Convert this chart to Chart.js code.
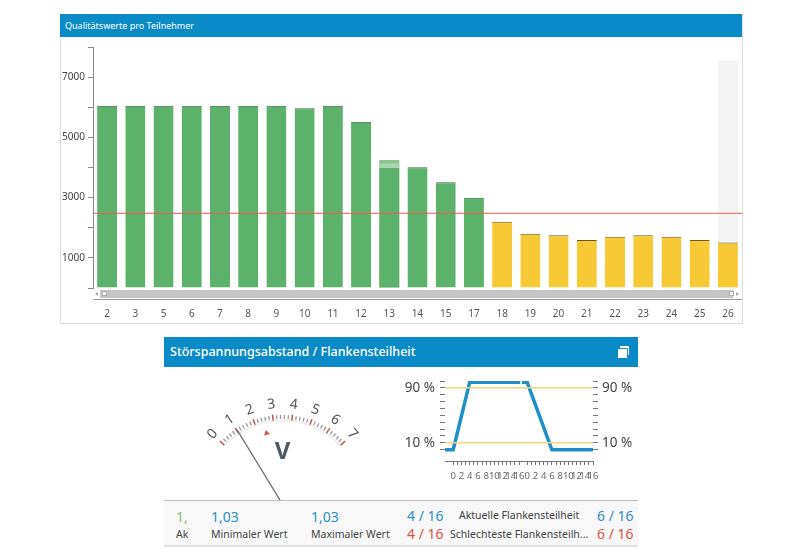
<!DOCTYPE html>
<html>
<head>
<meta charset="utf-8">
<title>Qualitätswerte</title>
<script src="https://cdn.jsdelivr.net/npm/chart.js@4"></script>
<style>
  body { margin: 0; background: #fff; font-family: "Noto Sans", sans-serif; color: #444; }
  #page { position: relative; width: 800px; height: 560px; overflow: hidden; }
  #page div, #page canvas, #page span { position: absolute; }
  .head { background: #0a8bc7; color: #fff; white-space: nowrap; }
  .val { font-size: 14px; line-height: 18px; white-space: nowrap; }
  .lab { font-size: 10.5px; line-height: 14px; white-space: nowrap; color: #444; }
  .blue { color: #2b8fc9; }
  .red { color: #d9534a; }
</style>
</head>
<body>
<div id="page">
  <div style="left:60px;top:14px;width:681px;height:309px;border:1px solid #dcdcdc;border-top:0"></div>
  <div class="head" style="left:60px;top:14px;width:677px;height:23px;padding-left:5px;font-size:9px;line-height:24px">Qualitätswerte pro Teilnehmer</div>
  <canvas id="qualityChart" width="682" height="287" style="left:60px;top:37px"></canvas>
  <div style="left:100px;top:290px;width:633px;height:8px;background:#c6c6c6"></div>
  <div style="left:102px;top:291px;width:5px;height:5px;background:#fff;border:1px solid #aaa;box-sizing:border-box"></div>
  <div style="left:729px;top:291px;width:5px;height:5px;background:#fff;border:1px solid #aaa;box-sizing:border-box"></div>
  <div style="left:95px;top:292px;border:2px solid transparent;border-right:3px solid #aaa;border-left:0"></div>
  <div style="left:736px;top:292px;border:2px solid transparent;border-left:3px solid #aaa;border-right:0"></div>
  <div style="left:93px;top:299px;width:649px;height:1px;background:#999"></div>

  <div class="head" style="left:164px;top:337px;width:468px;height:30px;padding-left:6px;font-size:12.5px;font-weight:500;line-height:30px">Störspannungsabstand / Flankensteilheit</div>
  <div style="left:620px;top:346px;width:9px;height:9px;background:#fff;border-radius:1px"></div>
  <div style="left:617px;top:348px;width:9px;height:9px;background:#fff;border-radius:1px;border:1px solid #0a8bc7;box-sizing:content-box"></div>
  <canvas id="dialChart" width="236" height="133" style="left:164px;top:367px"></canvas>
  <canvas id="edgeChart" width="238" height="110" style="left:400px;top:375px"></canvas>

  <div style="left:164px;top:500px;width:474px;height:44px;background:#f8f8f8;border-top:1px solid #bdbdbd;border-bottom:2px solid #e0e0e0"></div>
  <div class="val" style="left:176px;top:508px;width:11px;overflow:hidden;color:#8dbb6a">1,03</div>
  <div class="lab" style="left:176px;top:527px;width:12px;overflow:hidden">Aktueller Wert</div>
  <div class="val blue" style="left:211px;top:508px">1,03</div>
  <div class="lab" style="left:211px;top:527px">Minimaler Wert</div>
  <div class="val blue" style="left:311px;top:508px">1,03</div>
  <div class="lab" style="left:311px;top:527px">Maximaler Wert</div>
  <div class="val blue" style="left:407px;top:507px">4 / 16</div>
  <div class="val red" style="left:407px;top:525px">4 / 16</div>
  <div class="lab" style="left:459px;top:508px">Aktuelle Flankensteilheit</div>
  <div class="lab" style="left:450px;top:527px">Schlechteste Flankensteilh...</div>
  <div class="val blue" style="left:597px;top:507px">6 / 16</div>
  <div class="val red" style="left:597px;top:525px">6 / 16</div>
</div>

<script>
const FONT = '"Noto Sans", sans-serif';

// Qualitaetswerte
const participants = ["2","3","5","6","7","8","9","10","11","12","13","14","15","17","18","19","20","21","22","23","24","25","26"];
const qualityValues = [6050,6050,6050,6050,6050,6050,6050,5970,6050,5520,3980,4010,3510,3000,2200,1800,1750,1590,1700,1750,1700,1590,1510];
const peakOuter = [null,null,null,null,null,null,null,null,null,null,4250,null,null,null,null,null,null,null,null,null,null,null,null];
const peakInner = [null,null,null,null,null,null,null,null,null,null,4130,null,null,null,null,null,null,null,null,null,null,null,null];
const hoverBand = [null,null,null,null,null,null,null,null,null,null,null,null,null,null,null,null,null,null,null,null,null,null,7550];
const thresholdX = [0, 1];
const thresholdY = [2480, 2480];
const qualityTop = 8000;

const barColors = qualityValues.map(v => v > 2480 ? "#5cb26a" : "#f7ca35");
const capColors = qualityValues.map((v, i) => peakOuter[i] ? "#5cb26a" : (v > 2480 ? "#3e5c48" : "#6b5a2c"));

function bar(data, color, order, extra) {
  return Object.assign({
    type: "bar", data: data, backgroundColor: color, order: order,
    grouped: false, barPercentage: 0.71, categoryPercentage: 1, xAxisID: "x", yAxisID: "y"
  }, extra);
}

new Chart("qualityChart", {
  data: {
    labels: participants,
    datasets: [
      bar(hoverBand, "#f4f4f4", 5),
      bar(peakOuter, "#88c590", 4),
      bar(peakInner, "#a9d6ae", 3),
      bar(qualityValues, barColors, 2, { borderColor: capColors, borderWidth: { top: 1, left: 0, right: 0, bottom: 0 } }),
      { type: "line", data: thresholdY.map((y, i) => ({ x: thresholdX[i], y: y })), borderColor: "#ee5a50", borderWidth: 1,
        pointRadius: 0, order: 1, xAxisID: "xLine", yAxisID: "y" }
    ]
  },
  options: {
    responsive: false,
    animation: false,
    layout: { padding: { top: 10, right: 0, left: 0, bottom: 0 } },
    plugins: { legend: { display: false }, tooltip: { enabled: false } },
    scales: {
      x: {
        offset: true,
        border: { display: false },
        grid: { display: false, drawTicks: false },
        ticks: { color: "#555", font: { family: FONT, size: 10 }, padding: 20, maxRotation: 0, autoSkip: false },
        // the big tick padding would otherwise shrink the plot on the right
        afterFit: s => { s.height = 36; s.paddingLeft = 0; s.paddingRight = 0; }
      },
      xLine: { type: "linear", display: false, min: 0, max: 1 },
      y: {
        min: 0, max: qualityTop,
        border: { color: "#888" },
        grid: { drawOnChartArea: false, color: "#888", tickLength: 5 },
        ticks: {
          stepSize: 1000, padding: 3, color: "#444", font: { family: FONT, size: 10 },
          callback: v => (v / 1000) % 2 === 1 ? String(v) : ""
        },
        afterFit: s => { s.width = 33; }
      }
    }
  }
});

// Zeigerinstrument
const dialLabels = ["0","1","2","3","4","5","6","7"];
const dialValue = 1.03;
const dialMarker = 2.5;
const dialStepsPerUnit = 5;

const dialPlugin = {
  id: "dial",
  afterDraw(chart) {
    const c = chart.ctx, sx = chart.scales.x, cx = 118.5, cy = 133;
    const ang = v => (-46.7 + 93.4 * (sx.getPixelForValue(v) - sx.left) / sx.width) * Math.PI / 180;
    const spoke = (v, r1, r2, color, w) => {
      const a = ang(v);
      c.beginPath();
      c.moveTo(cx + r1 * Math.sin(a), cy - r1 * Math.cos(a));
      c.lineTo(cx + r2 * Math.sin(a), cy - r2 * Math.cos(a));
      c.strokeStyle = color; c.lineWidth = w; c.stroke();
    };
    c.save();
    c.beginPath();
    c.arc(cx, cy, 79.5, ang(0) - Math.PI / 2, ang(7) - Math.PI / 2);
    c.strokeStyle = "#ececec"; c.lineWidth = 1.5; c.stroke();
    dialLabels.forEach((t, u) => {
      spoke(u, 80, 86, "#b8574e", 1.5);
      if (u < 7) for (let k = 1; k < dialStepsPerUnit; k++) spoke(u + k / dialStepsPerUnit, 81, 85, "#a0a0a0", 1.4);
      const a = ang(u);
      c.save();
      c.translate(cx + 96 * Math.sin(a), cy - 96 * Math.cos(a));
      c.rotate(a);
      c.fillStyle = "#555"; c.font = "14px " + FONT; c.textAlign = "center"; c.textBaseline = "middle";
      c.fillText(t, 0, 0);
      c.restore();
    });
    const m = ang(dialMarker);
    c.save();
    c.translate(cx + 69 * Math.sin(m), cy - 69 * Math.cos(m));
    c.rotate(m);
    c.beginPath(); c.moveTo(0, -3); c.lineTo(3, 2); c.lineTo(-3, 2); c.closePath();
    c.fillStyle = "#d9534a"; c.fill();
    c.restore();
    // needle pivot sits a little left of the arc centre
    const n = ang(dialValue);
    c.beginPath();
    c.moveTo(cx - 2.5, cy);
    c.lineTo(cx + 83.4 * Math.sin(n), cy - 83.4 * Math.cos(n));
    c.strokeStyle = "#666"; c.lineWidth = 1.3; c.stroke();
    c.fillStyle = "#4d5a66"; c.font = "bold 24px " + FONT; c.textAlign = "center"; c.textBaseline = "middle";
    c.fillText("V", cx, 85);
    c.restore();
  }
};

new Chart("dialChart", {
  type: "scatter",
  data: { datasets: [{ data: [] }] },
  options: {
    responsive: false,
    animation: false,
    plugins: { legend: { display: false }, tooltip: { enabled: false } },
    scales: { x: { display: false, min: 0, max: dialLabels.length - 1 }, y: { display: false, min: 0, max: 1 } }
  },
  plugins: [dialPlugin]
});

// Flankensteilheit
const riseX = [-2, 0, 4, 16.3];
const riseY = [0, 0, 98, 98];
const fallX = [16.7, 18, 24, 34];
const fallY = [98, 98, 0, 0];
const limitX = [-2, 34];
const limitHigh = [90, 90];
const limitLow = [10, 10];
const edgeXTicks = [0,1,2,3,4,5,6,7,8,9,10,11,12,13,14,15,16,18,19,20,21,22,23,24,25,26,27,28,29,30,31,32,33,34];
const edgeYTicks = [0,10,20,30,40,50,60,70,80,90,100];
const edgeYLabels = [10, 90];

const pts = (xs, ys) => xs.map((x, i) => ({ x: x, y: ys[i] }));
const edgeLine = (data, color, w) => ({ data: data, borderColor: color, borderWidth: w, showLine: true, pointRadius: 0, borderJoinStyle: "miter", yAxisID: "y" });
const yLabel = v => edgeYLabels.includes(v) ? v + " %" : "";
const yAxis = (position, pad) => ({
  position: position, min: -16.4, max: 100,
  afterBuildTicks: a => { a.ticks = edgeYTicks.map(v => ({ value: v })); },
  border: { display: false },
  grid: { drawOnChartArea: false, color: "#777", tickLength: 5 },
  ticks: { padding: pad, color: "#444", font: { family: FONT, size: 13.5 }, autoSkip: false, callback: yLabel },
  afterFit: s => { s.width = 45; s.paddingTop = 0; s.paddingBottom = 0; }
});

new Chart("edgeChart", {
  type: "scatter",
  data: {
    datasets: [
      edgeLine(pts(limitX, limitHigh), "#f0d878", 1.5),
      edgeLine(pts(limitX, limitLow), "#f0d878", 1.5),
      edgeLine(pts(riseX, riseY), "#1f8fc9", 3.5),
      edgeLine(pts(fallX, fallY), "#1f8fc9", 3.5)
    ]
  },
  options: {
    responsive: false,
    animation: false,
    layout: { padding: { top: 6 } },
    plugins: { legend: { display: false }, tooltip: { enabled: false } },
    scales: {
      x: {
        type: "linear", min: -2, max: 34,
        afterBuildTicks: a => { a.ticks = edgeXTicks.map(v => ({ value: v })); },
        border: { color: "#777" },
        grid: { drawOnChartArea: false, color: "#777", tickLength: 4 },
        ticks: {
          padding: 6, color: "#666", font: { family: FONT, size: 9.5 }, autoSkip: false, maxRotation: 0,
          callback: v => v % 2 ? "" : String(v > 16 ? v - 18 : v)
        },
        afterFit: s => { s.height = 24; s.paddingLeft = 0; s.paddingRight = 0; }
      },
      y: yAxis("left", 5),
      yRight: yAxis("right", 4)
    }
  }
});
</script>
</body>
</html>
